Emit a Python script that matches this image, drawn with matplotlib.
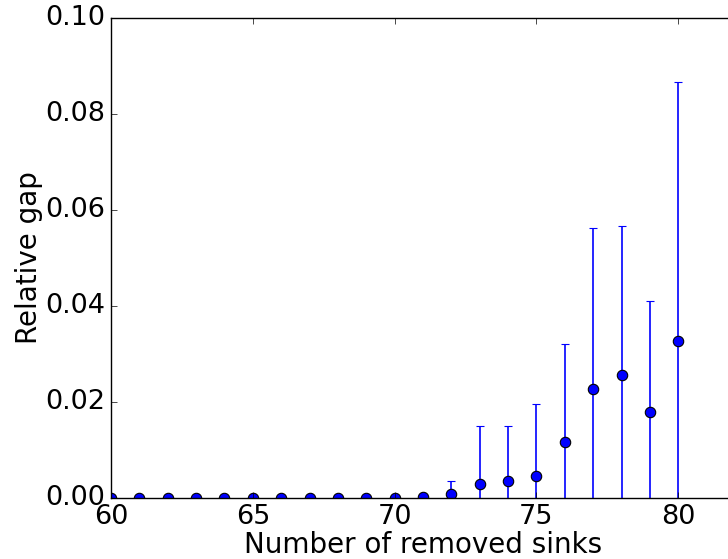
import matplotlib
matplotlib.use("Agg")
import matplotlib.pyplot as plt

plt.style.use('classic')

x_vals = list(range(60, 81))
gap = [0.0, 0.0, 0.0, 0.0, 0.0, 0.0, 0.0, 0.0, 0.0, 0.0, 0.0, 0.0002,
       0.0008, 0.0029, 0.0035, 0.0046, 0.0117, 0.0227, 0.0256, 0.0179, 0.0327]
err = [0.0, 0.0, 0.0, 0.0, 0.0, 0.0, 0.0, 0.0, 0.0, 0.0, 0.0, 0.0002,
       0.0027, 0.0121, 0.0115, 0.0150, 0.0204, 0.0336, 0.0311, 0.0231, 0.0540]

fig = plt.figure(figsize=(7.28, 5.59), dpi=100, facecolor='white')
ax = fig.add_axes([111/728, 61/559, 624/728, 480/559])
ax.errorbar(x_vals, gap, yerr=err, fmt='o', color='b', ecolor='b',
            mec='k', mew=0.8, markersize=7.5, capsize=3, elinewidth=1.2)
ax.set_xlim(60, 82)
ax.set_ylim(0, 0.10)
ax.set_xticks([60, 65, 70, 75, 80])
ax.set_yticks([0.0, 0.02, 0.04, 0.06, 0.08, 0.10])
ax.set_yticklabels(['0.00', '0.02', '0.04', '0.06', '0.08', '0.10'])
ax.tick_params(labelsize=19.5)
ax.set_xlabel('Number of removed sinks', fontsize=20, labelpad=1)
ax.set_ylabel('Relative gap', fontsize=20, labelpad=2)
fig.savefig('out.png', dpi=100, facecolor='white')
